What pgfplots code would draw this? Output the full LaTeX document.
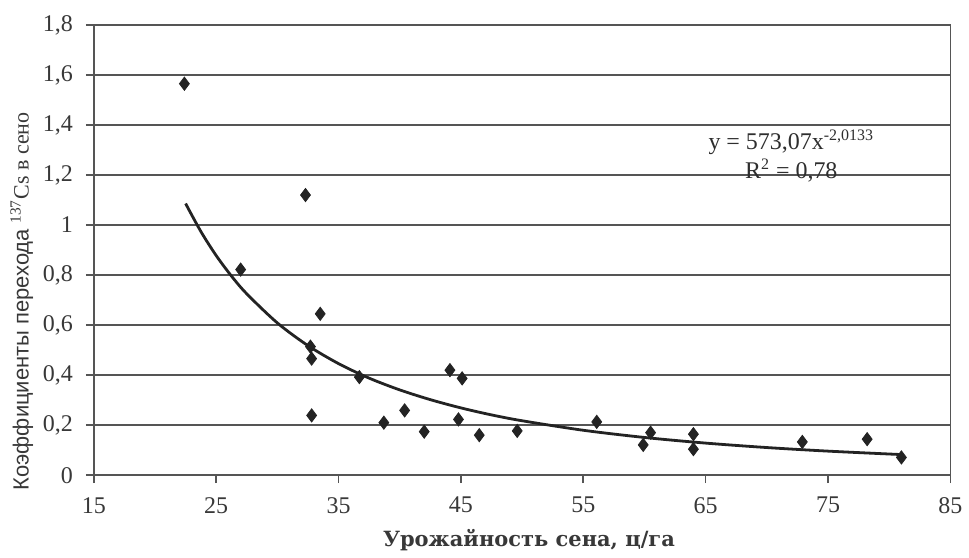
\documentclass[border=0pt]{standalone}
\usepackage{pgfplots}
\pgfplotsset{compat=1.18}
\usepackage{fontspec}
\setmainfont{Liberation Serif}
\newfontfamily\labsans{Liberation Sans}
\newfontfamily\labserif{DejaVu Serif}
\definecolor{gridc}{RGB}{85,85,85}
\definecolor{markc}{RGB}{35,35,35}
\begin{document}
\begin{tikzpicture}
\begin{axis}[
  at={(0,0)}, anchor=south west,
  scale only axis,
  width=429pt, height=225.5pt,
  xmin=15, xmax=85, ymin=0, ymax=1.8,
  xtick={15,25,35,45,55,65,75,85},
  ytick={0,0.2,0.4,0.6,0.8,1,1.2,1.4,1.6,1.8},
  /pgf/number format/assume math mode=true,
  ticklabel style={font=\fontsize{12}{14}\selectfont, text=black!78},
  yticklabel style={xshift=-3pt, /pgf/number format/.cd,fixed,precision=1,use comma},
  xticklabel style={yshift=-3.5pt},
  tick align=outside, tick pos=left,
  major tick length=4pt,
  tick style={gridc, line width=0.8pt},
  axis line style={gridc, line width=0.8pt},
  ymajorgrids, grid style={gridc, line width=0.8pt},
  xlabel={\labserif\bfseries Урожайность сена, ц/га},
  xlabel style={at={(axis description cs:0.508,-0.145)}, anchor=center, font=\fontsize{10.5}{12}\selectfont, text=black!78},
  ylabel={{\labsans Коэффициенты перехода} \textsuperscript{137}Cs в сено},
  ylabel style={at={(axis description cs:-0.084,0.386)}, anchor=center, rotate=0, font=\fontsize{11}{12}\selectfont, text=black!78},
  clip=false,
]
\addplot[only marks, mark=diamond*, mark size=3.3pt, color=markc] coordinates {
  (22.4,1.565) (32.3,1.12) (27.0,0.822) (33.5,0.645) (32.7,0.514) (32.8,0.466)
  (32.8,0.239) (36.7,0.392) (38.7,0.210) (40.4,0.259) (42.0,0.174) (44.1,0.420)
  (45.1,0.387) (44.8,0.223) (46.5,0.160) (49.6,0.177) (56.1,0.213) (60.5,0.170)
  (59.9,0.121) (64.0,0.164) (64.0,0.104) (72.9,0.133) (78.2,0.144) (81.0,0.071)
};
\addplot[smooth, color=markc, line width=1.4pt] coordinates {
  (22.5,1.086) (23.75,0.974) (25,0.878) (26.25,0.796) (27.5,0.725) (30,0.6086)
  (32.5,0.518) (35,0.446) (37.5,0.388) (40,0.341) (42.5,0.302) (45,0.269)
  (47.5,0.241) (50,0.2176) (55,0.1796) (60,0.1508) (65,0.1283) (70,0.1105)
  (75,0.0962) (81,0.0824)
};
\node[font=\fontsize{12}{13}\selectfont, text=black!82, align=center, inner sep=0pt] at (axis cs:72.0,1.275)
  {y = 573,07x\textsuperscript{-2,0133}\\[1.5pt] R\textsuperscript{2} = 0,78};
\end{axis}
\useasboundingbox (-47pt,-38.5pt) rectangle (437.5pt,238pt);
\end{tikzpicture}
\end{document}
